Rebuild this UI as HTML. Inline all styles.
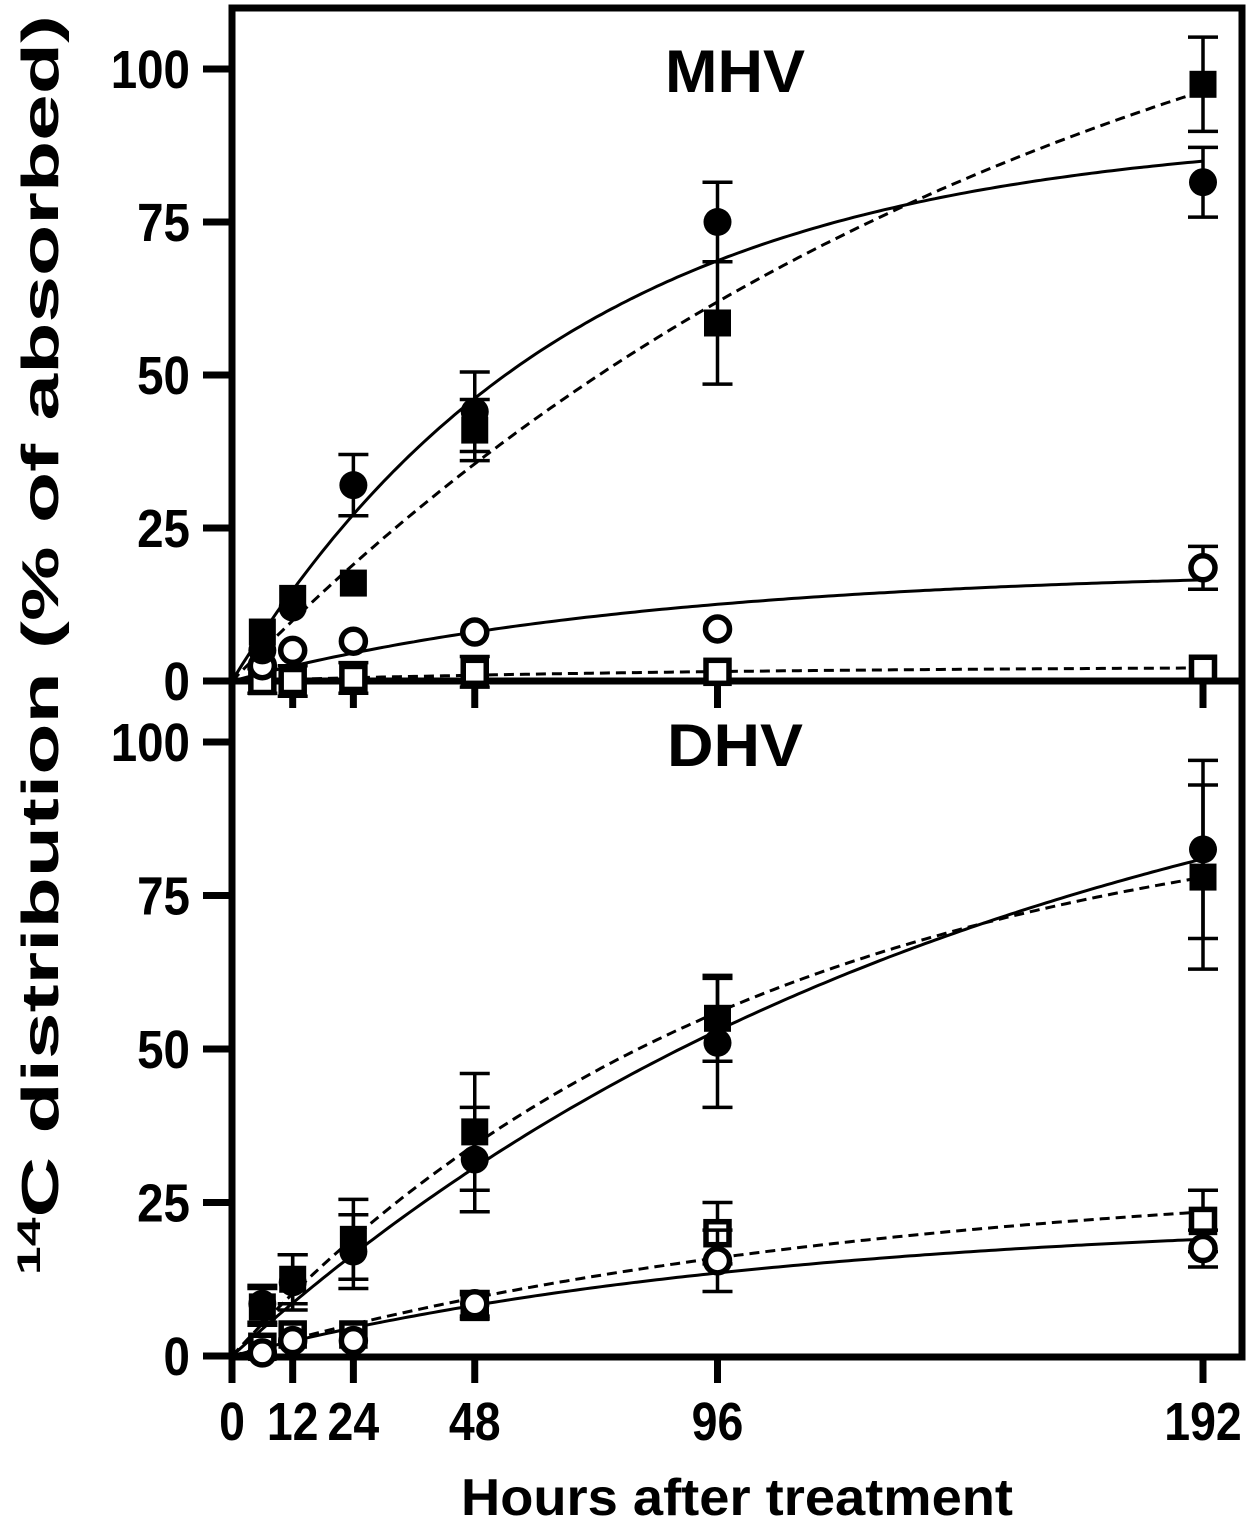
<!DOCTYPE html>
<html><head><meta charset="utf-8"><style>
html,body{margin:0;padding:0;background:#fff}
svg{display:block;font-family:"Liberation Sans",Arial,sans-serif;font-weight:bold}
</style></head><body>
<svg id="chart" width="1250" height="1520" viewBox="0 0 1250 1520" xmlns="http://www.w3.org/2000/svg">
<g id="axes"></g>
<g id="marks"></g>
<text x="735" y="92" font-size="60" text-anchor="middle" textLength="140" lengthAdjust="spacingAndGlyphs">MHV</text>
<text x="735" y="766" font-size="60" text-anchor="middle" textLength="136" lengthAdjust="spacingAndGlyphs">DHV</text>
<text x="737" y="1515" font-size="52" text-anchor="middle" textLength="552" lengthAdjust="spacingAndGlyphs">Hours after treatment</text>
<text transform="translate(58,645) rotate(-90)" font-size="52" text-anchor="middle" textLength="1260" lengthAdjust="spacingAndGlyphs"><tspan font-size="32" dy="-18">14</tspan><tspan dy="18">C distribution (% of absorbed)</tspan></text>
</svg>
<script>
const times = [6, 12, 24, 48, 96, 192];
const xTicks = [0, 12, 24, 48, 96, 192];
const yTicks = [0, 25, 50, 75, 100];
// MHV
const mhvFilledCircle = [5, 12, 32, 44, 75, 81.5];
const mhvFilledCircleErr = [0, 0, 5, 6.5, 6.5, 5.7];
const mhvFilledSquare = [8, 13.5, 16, 41, 58.5, 97.5];
const mhvFilledSquareErr = [0, 0, 0, 5, 10, 7.7];
const mhvOpenCircle = [2.5, 5, 6.5, 8, 8.5, 18.5];
const mhvOpenCircleErr = [0, 0, 0, 0, 0, 3.5];
const mhvOpenSquare = [0, 0, 0.5, 1.5, 1.5, 2];
const mhvOpenSquareErr = [2, 2.5, 2.5, 2.5, 0, 0];
// DHV
const dhvFilledCircle = [8.5, 12, 17, 32, 51, 82.5];
const dhvFilledCircleErr = [3, 4.5, 6, 8.5, 10.5, 14.5];
const dhvFilledSquare = [8, 12.5, 19, 36.5, 55, 78];
const dhvFilledSquareErr = [3, 4, 6.5, 9.5, 7, 15];
const dhvOpenCircle = [0.5, 2.5, 2.5, 8.5, 15.5, 17.5];
const dhvOpenCircleErr = [0, 0, 0, 2, 5, 3];
const dhvOpenSquare = [1.5, 3.5, 3.5, 8, 20, 22];
const dhvOpenSquareErr = [0, 0, 0, 2, 5, 5];
// fit parameters: y = A*(1-exp(-k t))
const mhvFitA = [90, 139.6, 18.4, 2.5];
const mhvFitK = [0.015, 0.00611, 0.0119, 0.01];
const dhvFitA = [112.3, 92.2, 22.8, 30.1];
const dhvFitK = [0.00665, 0.00973, 0.00936, 0.00788];

const NS = "http://www.w3.org/2000/svg";
const X0 = 232, XS = (1203 - 232) / 192;
const x = t => X0 + t * XS;
const yTop = v => 681 - v * 6.12;
const yBot = v => 1356 - v * 6.14;
function mk(tag, attrs, parent) {
  const e = document.createElementNS(NS, tag);
  for (const k in attrs) e.setAttribute(k, attrs[k]);
  parent.appendChild(e);
  return e;
}
const axes = document.getElementById('axes');
const marks = document.getElementById('marks');

const frame = mk('rect', {x: 232, y: 8, width: 1010, height: 1349, fill: 'none', stroke: '#000', 'stroke-width': 7}, axes);


const mid = mk('line', {x1: 203, x2: 1242, y1: 681, y2: 681, stroke: '#000', 'stroke-width': 7}, axes);



[[yTop, 'mhv'], [yBot, 'dhv']].forEach(([yf, nm]) => {
  yTicks.forEach(v => {
    const l = mk('line', {x1: 203, x2: 232, y1: yf(v), y2: yf(v), stroke: '#000', 'stroke-width': 7}, axes);
    
    
    const t = mk('text', {x: 190, y: yf(v) + 19, 'font-size': 54, 'text-anchor': 'end'}, axes);
    
    
    t.setAttribute('transform', `translate(190,0) scale(0.88,1) translate(-190,0)`);
    t.textContent = v;
  });
});
xTicks.forEach(v => {
  [[681, 708], [1356, 1383]].forEach(([a, b]) => {
    const l = mk('line', {x1: x(v), x2: x(v), y1: a, y2: b, stroke: '#000', 'stroke-width': 7}, axes);
    
    
  });
  const t = mk('text', {x: x(v), y: 1440, 'font-size': 54, 'text-anchor': 'middle'}, axes);
  
  
  t.setAttribute('transform', `translate(${x(v)},0) scale(0.86,1) translate(${-x(v)},0)`);
  t.textContent = v;
});

function curve(A, k, yf, dashed, name) {
  let d = '';
  for (let t = 0; t <= 192; t += 1) d += (t ? 'L' : 'M') + x(t).toFixed(1) + ',' + yf(A * (1 - Math.exp(-k * t))).toFixed(1);
  const p = mk('path', {d, fill: 'none', stroke: '#000', 'stroke-width': 3, 'stroke-dasharray': dashed ? '10,6' : 'none'}, marks);
  
  
}
function series(vals, errs, yf, shape, filled, name) {
  vals.forEach((v, i) => {
    const cx = x(times[i]), cy = yf(v), e = errs[i];
    if (e > 0) {
      const g = mk('path', {d: `M${cx},${yf(v + e)}V${yf(v - e)}M${cx - 15},${yf(v + e)}h30M${cx - 15},${yf(v - e)}h30`, stroke: '#000', 'stroke-width': 3.5, fill: 'none'}, marks);
      
      
    }
    let m;
    if (shape === 'circle') m = mk('circle', {cx, cy, r: filled ? 14 : 12, fill: filled ? '#000' : '#fff', stroke: '#000', 'stroke-width': filled ? 0 : 5.5}, marks);
    else m = filled ? mk('rect', {x: cx - 13.5, y: cy - 13.5, width: 27, height: 27, fill: '#000'}, marks)
                    : mk('rect', {x: cx - 11.5, y: cy - 11.5, width: 23, height: 23, fill: '#fff', stroke: '#000', 'stroke-width': 5.5}, marks);
    
    
  });
}
curve(mhvFitA[0], mhvFitK[0], yTop, false, 'mhv-filled-circle-fit');
curve(mhvFitA[1], mhvFitK[1], yTop, true, 'mhv-filled-square-fit');
curve(mhvFitA[2], mhvFitK[2], yTop, false, 'mhv-open-circle-fit');
curve(mhvFitA[3], mhvFitK[3], yTop, true, 'mhv-open-square-fit');
series(mhvOpenSquare, mhvOpenSquareErr, yTop, 'square', false, 'mhv-open-square');
series(mhvOpenCircle, mhvOpenCircleErr, yTop, 'circle', false, 'mhv-open-circle');
series(mhvFilledCircle, mhvFilledCircleErr, yTop, 'circle', true, 'mhv-filled-circle');
series(mhvFilledSquare, mhvFilledSquareErr, yTop, 'square', true, 'mhv-filled-square');
curve(dhvFitA[0], dhvFitK[0], yBot, false, 'dhv-filled-circle-fit');
curve(dhvFitA[1], dhvFitK[1], yBot, true, 'dhv-filled-square-fit');
curve(dhvFitA[2], dhvFitK[2], yBot, false, 'dhv-open-circle-fit');
curve(dhvFitA[3], dhvFitK[3], yBot, true, 'dhv-open-square-fit');
series(dhvOpenSquare, dhvOpenSquareErr, yBot, 'square', false, 'dhv-open-square');
series(dhvOpenCircle, dhvOpenCircleErr, yBot, 'circle', false, 'dhv-open-circle');
series(dhvFilledCircle, dhvFilledCircleErr, yBot, 'circle', true, 'dhv-filled-circle');
series(dhvFilledSquare, dhvFilledSquareErr, yBot, 'square', true, 'dhv-filled-square');
</script>
</body></html>
